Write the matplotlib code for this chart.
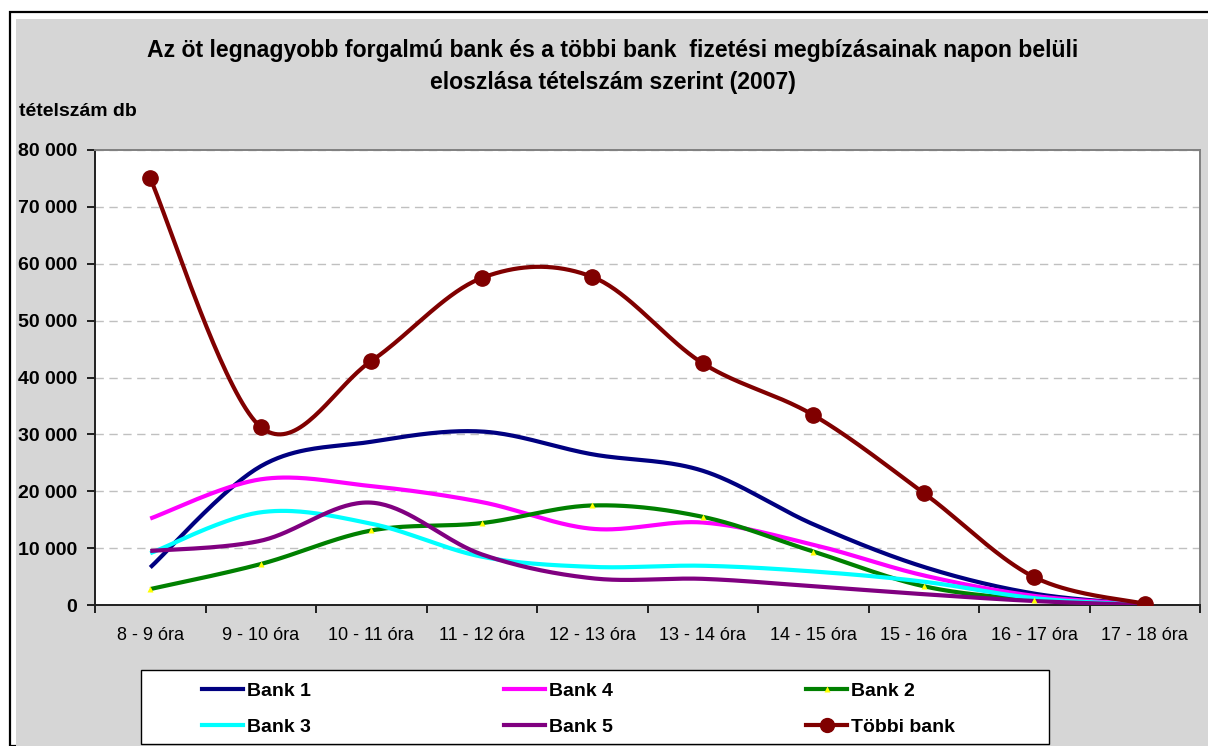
import numpy as np
import matplotlib
matplotlib.use("Agg")
import matplotlib.pyplot as plt
from matplotlib.patches import Rectangle
from matplotlib.lines import Line2D
from matplotlib.ticker import FuncFormatter, FixedLocator

plt.rcParams["font.family"] = ["Liberation Sans", "DejaVu Sans"]

# ── data ──────────────────────────────────────────────────────────────────────
categories = ["8 - 9 óra", "9 - 10 óra", "10 - 11 óra", "11 - 12 óra", "12 - 13 óra",
              "13 - 14 óra", "14 - 15 óra", "15 - 16 óra", "16 - 17 óra", "17 - 18 óra"]
bank1 = [6600, 24400, 28700, 30500, 26500, 23600, 14200, 6700, 2000, 100]
bank4 = [15200, 22100, 20900, 18100, 13400, 14500, 10600, 5200, 1600, 100]
bank2 = [2800, 7200, 13100, 14400, 17500, 15500, 9400, 3300, 900, 0]
bank3 = [9100, 16300, 14300, 8500, 6700, 6900, 5900, 4100, 1200, 0]
bank5 = [9500, 11300, 18000, 8900, 4700, 4600, 3300, 1900, 700, 0]
tobbi = [75000, 31300, 42900, 57500, 57700, 42500, 33400, 19700, 4900, 200]

title_1 = "Az öt legnagyobb forgalmú bank és a többi bank  fizetési megbízásainak napon belüli"
title_2 = "eloszlása tételszám szerint (2007)"
y_label = "tételszám db"

W, H = 1208, 746
BG = "#d6d6d6"


def smooth(xs, ys, n=40):
    """Excel-like smoothed line (Catmull-Rom through the points)."""
    p = np.column_stack([xs, ys]).astype(float)
    p = np.vstack([p[0], p, p[-1]])
    out = []
    t = np.linspace(0, 1, n)[:, None]
    for i in range(1, len(p) - 2):
        p0, p1, p2, p3 = p[i - 1], p[i], p[i + 1], p[i + 2]
        c1 = p1 + (p2 - p0) / 6
        c2 = p2 - (p3 - p1) / 6
        seg = ((1 - t) ** 3) * p1 + 3 * ((1 - t) ** 2) * t * c1 + 3 * (1 - t) * t ** 2 * c2 + t ** 3 * p2
        out.append(seg if i == 1 else seg[1:])
    out = np.vstack(out)
    return out[:, 0], out[:, 1]


fig = plt.figure(figsize=(W / 100, H / 100), dpi=100)
fig.patch.set_facecolor("white")

# chart area: black outer frame and grey background
fig.add_artist(Rectangle((10 / W, 0), 1.2, (H - 12) / H, transform=fig.transFigure,
                         facecolor="white", edgecolor="black", linewidth=1.6, zorder=0))
fig.add_artist(Rectangle((16 / W, 0), 1.0, (H - 19) / H, transform=fig.transFigure,
                         facecolor=BG, edgecolor="none", zorder=0))

ax = fig.add_axes([95 / W, (H - 605) / H, 1105 / W, 455 / H])
ax.set_facecolor("white")

x = np.arange(len(categories))
series = [
    ("Bank 1", bank1, "#000080", None),
    ("Bank 4", bank4, "#ff00ff", None),
    ("Bank 2", bank2, "#008000", "^"),
    ("Bank 3", bank3, "#00ffff", None),
    ("Bank 5", bank5, "#800080", None),
    ("Többi bank", tobbi, "#800000", "o"),
]

handles = {}
for name, vals, col, mk in series:
    sx, sy = smooth(x, vals)
    ax.plot(sx, sy, color=col, lw=3.0, solid_capstyle="butt", zorder=3)
    if mk == "^":
        ax.plot(x, vals, ls="none", marker="^", ms=4, color="#ffff00", mec="none", zorder=4)
        h = Line2D([], [], color=col, lw=3.0, marker="^", ms=5, mfc="#ffff00", mec="none")
    elif mk == "o":
        ax.plot(x, vals, ls="none", marker="o", ms=11, color=col, mec=col, zorder=4)
        h = Line2D([], [], color=col, lw=3.0, marker="o", ms=10, mfc=col, mec=col)
    else:
        h = Line2D([], [], color=col, lw=3.0)
    handles[name] = h

ax.set_xlim(-0.5, len(categories) - 0.5)
ax.set_ylim(0, 80000)
ax.set_yticks(np.arange(0, 80001, 10000))
ax.yaxis.set_major_formatter(FuncFormatter(lambda v, _: f"{int(v):,}".replace(",", " ")))
ax.yaxis.grid(True, color="#c0c0c0", linestyle=(0, (6, 4)), linewidth=1.0)
ax.set_axisbelow(True)

ax.set_xticks(x)
ax.set_xticklabels(categories)
ax.xaxis.set_minor_locator(FixedLocator(np.arange(-0.5, len(categories), 1.0)))
ax.tick_params(axis="x", which="major", length=0, pad=16, labelsize=13)
ax.tick_params(axis="x", which="minor", length=6, width=1.2, color="black", direction="out")
ax.tick_params(axis="y", which="major", length=6, width=1.2, color="black", direction="out",
               pad=7, labelsize=14)
for lbl in ax.get_yticklabels():
    lbl.set_fontweight("bold")

for side in ["top", "right"]:
    ax.spines[side].set_color("#808080")
    ax.spines[side].set_linewidth(1.4)
for side in ["left", "bottom"]:
    ax.spines[side].set_color("#202020")
    ax.spines[side].set_linewidth(1.4)

# titles
fig.text(613 / W, (H - 51) / H, title_1, ha="center", va="center", fontsize=16.6, fontweight="bold")
fig.text(613 / W, (H - 83) / H, title_2, ha="center", va="center", fontsize=16.6, fontweight="bold")
fig.text(19 / W, (H - 112) / H, y_label, ha="left", va="center", fontsize=14, fontweight="bold")

# legend box + entries
fig.add_artist(Rectangle((141 / W, (H - 744) / H), 908 / W, 74 / H, transform=fig.transFigure,
                         facecolor="white", edgecolor="black", linewidth=1.0, zorder=5))
order = ["Bank 1", "Bank 3", "Bank 4", "Bank 5", "Bank 2", "Többi bank"]
leg = fig.legend([handles[k] for k in order], order, ncol=3, frameon=False,
                 loc="upper left", bbox_to_anchor=(202 / W, (H - 682) / H),
                 borderpad=0, borderaxespad=0, handlelength=2.1, handletextpad=0.2,
                 columnspacing=9.95, labelspacing=0.95,
                 prop={"size": 14, "weight": "bold"})
leg.set_zorder(6)

fig.savefig("out.png", dpi=100, facecolor=fig.get_facecolor())
